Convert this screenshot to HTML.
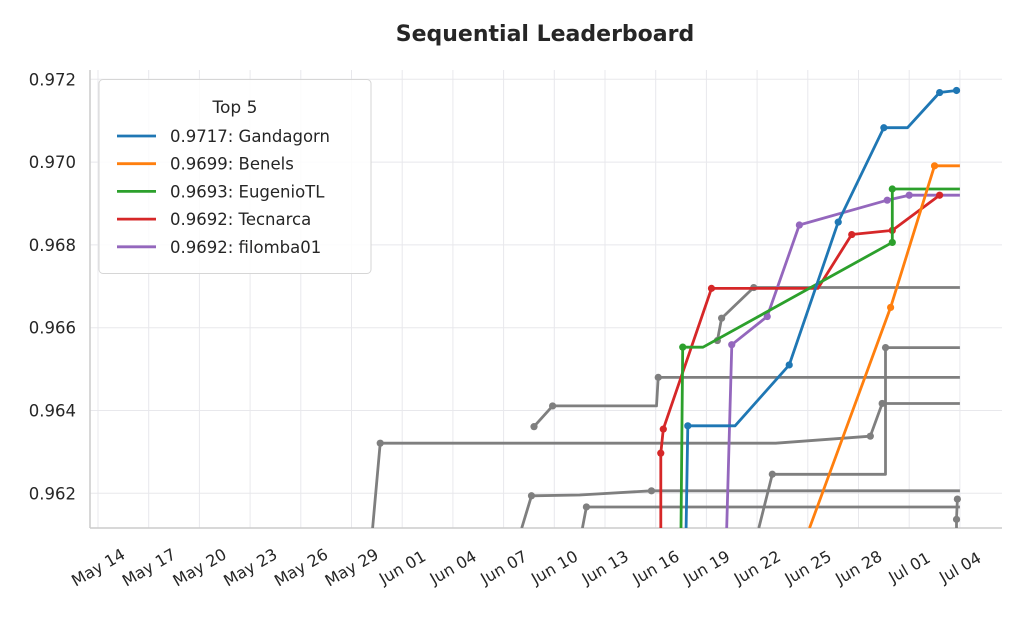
<!DOCTYPE html>
<html><head><meta charset="utf-8"><style>
body{margin:0;background:#fff;width:1024px;height:614px;overflow:hidden}
svg{font-family:"DejaVu Sans","Liberation Sans",sans-serif}
</style></head><body>
<svg id="chart" width="1024" height="614"></svg>
<script>
const tickDays=[0,3,6,9,12,15,18,21,24,27,30,33,36,39,42,45,48,51];
const tickLabels=["May 14","May 17","May 20","May 23","May 26","May 29","Jun 01","Jun 04","Jun 07","Jun 10","Jun 13","Jun 16","Jun 19","Jun 22","Jun 25","Jun 28","Jul 01","Jul 04"];
const yTicks=[0.962,0.964,0.966,0.968,0.970,0.972];
const greyDays=[
 [16.25,16.7,40.1,45.7,46.4,51],
 [25.8,26.9,33.05,33.15,51],
 [25.07,25.65,28.5,32.75,51],
 [28.66,28.9,51],
 [36.65,36.9,38.8,51],
 [39.1,39.9,46.6,46.6,51],
 [50.8,50.8,50.85]
];
const greyVals=[
 [0.96116,0.96321,0.96321,0.96338,0.96417,0.96417],
 [0.96361,0.96411,0.96411,0.96480,0.96480],
 [0.96116,0.96194,0.96196,0.96206,0.96206],
 [0.96116,0.96167,0.96167],
 [0.96569,0.96623,0.96697,0.96697],
 [0.96116,0.96246,0.96246,0.96552,0.96552],
 [0.96116,0.96137,0.96186]
];
const greyMarks=[[1,3,4],[0,1,3],[1,3],[1],[0,1,2],[1,3],[1,2]];
const names=["0.9717: Gandagorn","0.9699: Benels","0.9693: EugenioTL","0.9692: Tecnarca","0.9692: filomba01"];
const colors=["#1f77b4","#ff7f0e","#2ca02c","#d62728","#9467bd"];
const topDays=[
 [34.8,34.9,37.7,40.9,43.8,46.5,47.9,49.8,50.8,51],
 [42.1,46.9,49.5,51],
 [34.5,34.6,35.8,47.0,47.0,51],
 [33.3,33.3,33.45,36.3,42.6,44.6,47.0,49.8],
 [37.2,37.5,39.6,41.5,46.7,48.0,51]
];
const topVals=[
 [0.96116,0.96363,0.96363,0.96510,0.96855,0.97083,0.97083,0.97168,0.97173,0.97173],
 [0.96116,0.96649,0.96991,0.96991],
 [0.96116,0.96553,0.96553,0.96806,0.96935,0.96935],
 [0.96116,0.96297,0.96355,0.96695,0.96695,0.96825,0.96835,0.96920],
 [0.96116,0.96559,0.96627,0.96848,0.96908,0.96920,0.96920]
];
const topMarks=[[1,3,4,5,7,8],[1,2],[1,3,4],[1,2,3,5,6,7],[1,2,3,4,5]];

const NS="http://www.w3.org/2000/svg";
const svg=document.getElementById('chart');
const L=90,R=1002,T=70,B=528;
const xs=d=>98+d*16.9;
const ys=v=>79.3+(0.972-v)*41400;
function mk(tag,attrs,parent){const e=document.createElementNS(NS,tag);for(const k in attrs)e.setAttribute(k,attrs[k]);(parent||svg).appendChild(e);return e;}

const title=mk('text',{x:545,y:41,'text-anchor':'middle','font-size':22,'font-weight':'bold',fill:'#262626'});


title.textContent="Sequential Leaderboard";

const defs=mk('defs',{});
const cp=mk('clipPath',{id:'clip'},defs);
mk('rect',{x:L,y:T,width:R-L,height:B-T},cp);

const grid=mk('g',{});


tickDays.forEach((d,i)=>{
 const x=xs(d);
 mk('line',{x1:x,x2:x,y1:T,y2:B,stroke:'#e8e8ec','stroke-width':1},grid);
 const t=mk('text',{transform:`translate(${x},${B+39}) rotate(-30)`,x:0,y:6,'text-anchor':'middle','font-size':16,fill:'#262626'});
 
 
 t.textContent=tickLabels[i];
});
yTicks.forEach(v=>{
 const y=ys(v);
 mk('line',{x1:L,x2:R,y1:y,y2:y,stroke:'#e8e8ec','stroke-width':1},grid);
 const t=mk('text',{x:76,y:y+6,'text-anchor':'end','font-size':16.5,fill:'#262626'});
 
 
 t.textContent=v.toFixed(3);
});
mk('line',{x1:L,x2:L,y1:T,y2:B,stroke:'#cccccc','stroke-width':1.5});
mk('line',{x1:L,x2:R,y1:B,y2:B,stroke:'#cccccc','stroke-width':1.5});

const plot=mk('g',{'clip-path':'url(#clip)'});


function series(days,vals,marks,color,name){
 const g=mk('g',{},plot);
 
 
 const pts=days.map((d,i)=>xs(d).toFixed(1)+','+ys(vals[i]).toFixed(1)).join(' ');
 mk('polyline',{points:pts,fill:'none',stroke:color,'stroke-width':2.8,'stroke-linejoin':'round'},g);
 marks.forEach(i=>{
  const c=mk('circle',{cx:xs(days[i]),cy:ys(vals[i]),r:3.6,fill:color},g);
  
  
 });
}
greyDays.forEach((d,i)=>series(d,greyVals[i],greyMarks[i],'#7f7f7f','other-series'));
for(let i=topDays.length-1;i>=0;i--)series(topDays[i],topVals[i],topMarks[i],colors[i],'top-series-'+(i+1));

const lg=mk('g',{});


mk('rect',{x:99,y:79.5,width:272,height:194,rx:4,fill:'#fff','fill-opacity':0.85,stroke:'#d6d6d6','stroke-width':1},lg);
const lt=mk('text',{x:235,y:113,'text-anchor':'middle','font-size':17,fill:'#262626'},lg);


lt.textContent="Top 5";
names.forEach((n,i)=>{
 const y=136+i*27.7;
 const e=mk('g',{},lg);
 
 
 mk('line',{x1:117,x2:156,y1:y,y2:y,stroke:colors[i],'stroke-width':2.8},e);
 const t=mk('text',{x:170,y:y+6,'font-size':16.5,fill:'#262626'},e);
 t.textContent=n;
});
</script>
</body></html>
